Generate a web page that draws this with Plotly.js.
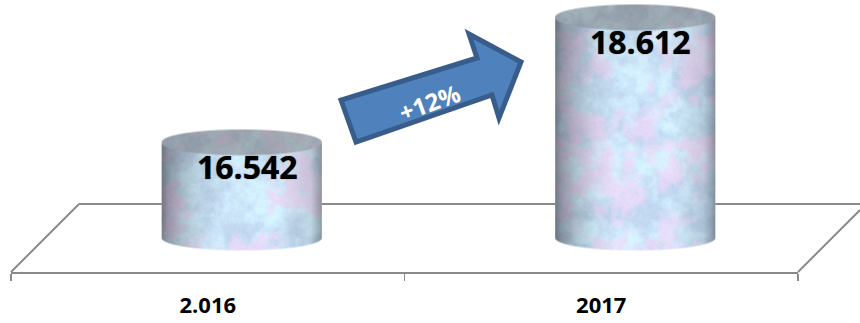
<!DOCTYPE html>
<html>
<head>
<meta charset="utf-8">
<script src="https://cdn.plot.ly/plotly-3.0.1.min.js"></script>
<style>html,body{margin:0;padding:0;background:#fff;overflow:hidden}</style>
</head>
<body>
<div id="chart" style="width:860px;height:323px"></div>
<script>
// Chart data
const categories = ['2.016', '2017'];
const values = [16542, 18612];
const valueLabels = ['16.542', '18.612'];
const growthLabel = '+12%';

// Frame geometry in pixels
const W = 860, H = 323;
const frontY = 272, floorY = 238, depth = 68;
const axisLeft = 11, axisRight = 798;
const barShift = 34, barPx = 160, capRy = 12.5;

// Truncated value scale: floor of the cylinders sits at baseValue
const pxPerUnit = 125 / 2070;
const baseValue = values[0] - 96 / pxPerUnit;
const yMin = baseValue - (frontY - floorY) / pxPerUnit;
const yMax = baseValue + floorY / pxPerUnit;

const catPx = (axisRight - axisLeft) / categories.length;
const barWidth = barPx / catPx;
const shiftUnits = barShift / catPx;
const labelShift = [6, 5];

// Repeatable value noise for the marbled cylinder surface
function hash(ix, iy, seed) {
  const s = Math.sin(ix * 127.1 + iy * 311.7 + seed * 74.7) * 43758.5453;
  return s - Math.floor(s);
}
function smooth(t) { return t * t * (3 - 2 * t); }
function noise(x, y, seed) {
  const ix = Math.floor(x), iy = Math.floor(y);
  const fx = smooth(x - ix), fy = smooth(y - iy);
  const a = hash(ix, iy, seed), b = hash(ix + 1, iy, seed);
  const c = hash(ix, iy + 1, seed), d = hash(ix + 1, iy + 1, seed);
  return (a + (b - a) * fx) * (1 - fy) + (c + (d - c) * fx) * fy;
}
function fbm(x, y, seed) {
  return noise(x / 26, y / 26, seed) * 0.42 + noise(x / 11, y / 11, seed + 1) * 0.3 +
         noise(x / 5, y / 5, seed + 2) * 0.18 + noise(x / 2.2, y / 2.2, seed + 3) * 0.1;
}
function clamp01(v) { return Math.max(0, Math.min(1, v)); }

// Horizontal light falloff across the round side of a cylinder
function sideShade(u) {
  const stops = [[0, 0.55], [0.04, 0.68], [0.12, 0.8], [0.26, 0.96], [0.38, 1.02], [0.72, 1.02], [0.93, 0.9], [1, 0.66]];
  for (let i = 1; i < stops.length; i++) {
    if (u <= stops[i][0]) {
      const t = (u - stops[i - 1][0]) / (stops[i][0] - stops[i - 1][0]);
      return stops[i - 1][1] + (stops[i][1] - stops[i - 1][1]) * t;
    }
  }
  return 1;
}

function cylinderTexture(bodyPx, seed) {
  const w = barPx, h = Math.round(bodyPx + 2 * capRy);
  const cv = document.createElement('canvas');
  cv.width = w; cv.height = h;
  const ctx = cv.getContext('2d');
  const img = ctx.createImageData(w, h);
  const topC = capRy, botC = h - capRy;
  for (let y = 0; y < h; y++) {
    for (let x = 0; x < w; x++) {
      const u = (x + 0.5) / w, t = 2 * u - 1;
      const bulge = capRy * Math.sqrt(Math.max(0, 1 - t * t));
      const top = topC - bulge, bottom = botC + bulge, capLow = topC + bulge;
      let alpha = clamp01(y + 1 - top) * clamp01(bottom - y);
      alpha *= clamp01((1 - Math.abs(t)) * w / 2 + 0.5);
      const hue = fbm(x, y, seed), hue2 = fbm(x + 91, y + 37, seed + 5);
      const grain = noise(x / 1.6, y / 1.6, seed + 9) - 0.5;
      // blend grey-blue, sky and lilac patches
      const k = clamp01((hue - 0.32) / 0.34), p = clamp01((hue2 - 0.47) / 0.18);
      let r = 190 + (210 - 190) * k, g = 212 + (240 - 212) * k, b = 236 + (254 - 236) * k;
      r += (236 - r) * p * 0.72; g += (212 - g) * p * 0.72; b += (244 - b) * p * 0.72;
      r += grain * 7; g += grain * 7; b += grain * 7;
      const capBlend = clamp01(capLow + 0.8 - y);
      const depthFade = 0.97 + 0.03 * clamp01((y - capLow) / 60);
      const sideLight = sideShade(u) * depthFade;
      const capLight = 0.74;
      const light = sideLight + (capLight - sideLight) * capBlend;
      const desat = 0.3 * capBlend + 0.06 * (1 - clamp01((y - capLow) / 70)) * (1 - capBlend);
      const grey = (r + g + b) / 3;
      r += (grey - r) * desat; g += (grey - g) * desat; b += (grey - b) * desat;
      const i = (y * w + x) * 4;
      img.data[i] = Math.min(255, r * light); img.data[i + 1] = Math.min(255, g * light); img.data[i + 2] = Math.min(255, b * light);
      img.data[i + 3] = 255 * alpha;
    }
  }
  ctx.putImageData(img, 0, 0);
  return cv.toDataURL('image/png');
}

// Pixel helpers for the floor and the arrow overlay
const px = x => x / W;
const py = y => 1 - y / H;
function polyPath(points) {
  return 'M' + points.map(p => px(p[0]).toFixed(5) + ',' + py(p[1]).toFixed(5)).join('L');
}
const floorLine = { color: '#8a8a8a', width: 2 };
function paperLine(x0, y0, x1, y1) {
  return { type: 'line', xref: 'paper', yref: 'paper', layer: 'below',
           x0: px(x0), y0: py(y0), x1: px(x1), y1: py(y1), line: floorLine };
}

// Growth arrow between the two cylinders
const arrow = [[341, 100], [356, 142], [492, 95], [499, 118], [521, 62], [469, 34], [477, 58]];

const barTrace = {
  type: 'bar', xaxis: 'x2', yaxis: 'y',
  x: categories, y: values.map(v => v - baseValue), base: baseValue,
  width: barWidth,
  marker: { color: '#b5cbe0', line: { width: 0 } },
  hoverinfo: 'skip', showlegend: false
};
// anchors the front axis so that both category labels are drawn
const axisTrace = {
  type: 'scatter', mode: 'markers', xaxis: 'x', yaxis: 'y',
  x: categories, y: values, marker: { opacity: 0 },
  hoverinfo: 'skip', showlegend: false
};

const images = values.map((v, i) => ({
  source: cylinderTexture((v - baseValue) * pxPerUnit, 3 + i * 11),
  xref: 'x2', yref: 'y',
  x: i - barWidth / 2, y: v + capRy / pxPerUnit,
  sizex: barWidth, sizey: (v - baseValue) + 2 * capRy / pxPerUnit,
  xanchor: 'left', yanchor: 'top', sizing: 'stretch', layer: 'above'
}));

const annotations = values.map((v, i) => ({
  xref: 'x2', yref: 'y', x: i, y: v, text: valueLabels[i],
  showarrow: false, xanchor: 'center', yanchor: 'middle',
  xshift: labelShift[i], yshift: -24,
  font: { family: 'Open Sans, sans-serif', size: 32, color: '#000', weight: 700, shadow: '0 0 1px rgba(0,0,0,0.7)' }
}));
annotations.push({
  xref: 'paper', yref: 'paper', x: px(429), y: py(102), text: growthLabel,
  showarrow: false, textangle: -20, xanchor: 'center', yanchor: 'middle',
  font: { family: 'Open Sans, sans-serif', size: 24, color: '#fff', weight: 700 }
});

const layout = {
  width: W, height: H, autosize: false,
  margin: { l: 0, r: 0, t: 0, b: 0 },
  paper_bgcolor: '#fff', plot_bgcolor: 'rgba(0,0,0,0)',
  showlegend: false,
  xaxis: {
    type: 'category', domain: [px(axisLeft), px(axisRight)], range: [-0.5, 1.5],
    anchor: 'y', showgrid: false, zeroline: false,
    showline: true, linecolor: floorLine.color, linewidth: 2,
    ticks: 'outside', tickson: 'boundaries', ticklen: 7, tickwidth: 1.5, tickcolor: floorLine.color,
    tickfont: { family: 'Open Sans, sans-serif', size: 22, color: '#000', weight: 700 },
    ticklabelstandoff: 13,
    categoryorder: 'array', categoryarray: categories, automargin: false
  },
  xaxis2: {
    type: 'category', overlaying: 'x', anchor: 'y',
    range: [-0.5 - shiftUnits, 1.5 - shiftUnits], visible: false,
    categoryorder: 'array', categoryarray: categories
  },
  yaxis: {
    domain: [(H - frontY) / H, 1], range: [yMin, yMax], visible: false, fixedrange: true
  },
  shapes: [
    paperLine(axisLeft, frontY, axisLeft + depth, frontY - depth),
    paperLine(axisLeft + depth, frontY - depth, W, frontY - depth),
    paperLine(axisRight, frontY, W, frontY - (W - axisRight)),
    { type: 'path', xref: 'paper', yref: 'paper', layer: 'above',
      path: polyPath(arrow) + 'Z',
      fillcolor: '#4f81bd', line: { color: '#385d8a', width: 5 } }
  ],
  images: images,
  annotations: annotations
};

Plotly.newPlot('chart', [axisTrace, barTrace], layout, { displayModeBar: false, staticPlot: true });
</script>
</body>
</html>
